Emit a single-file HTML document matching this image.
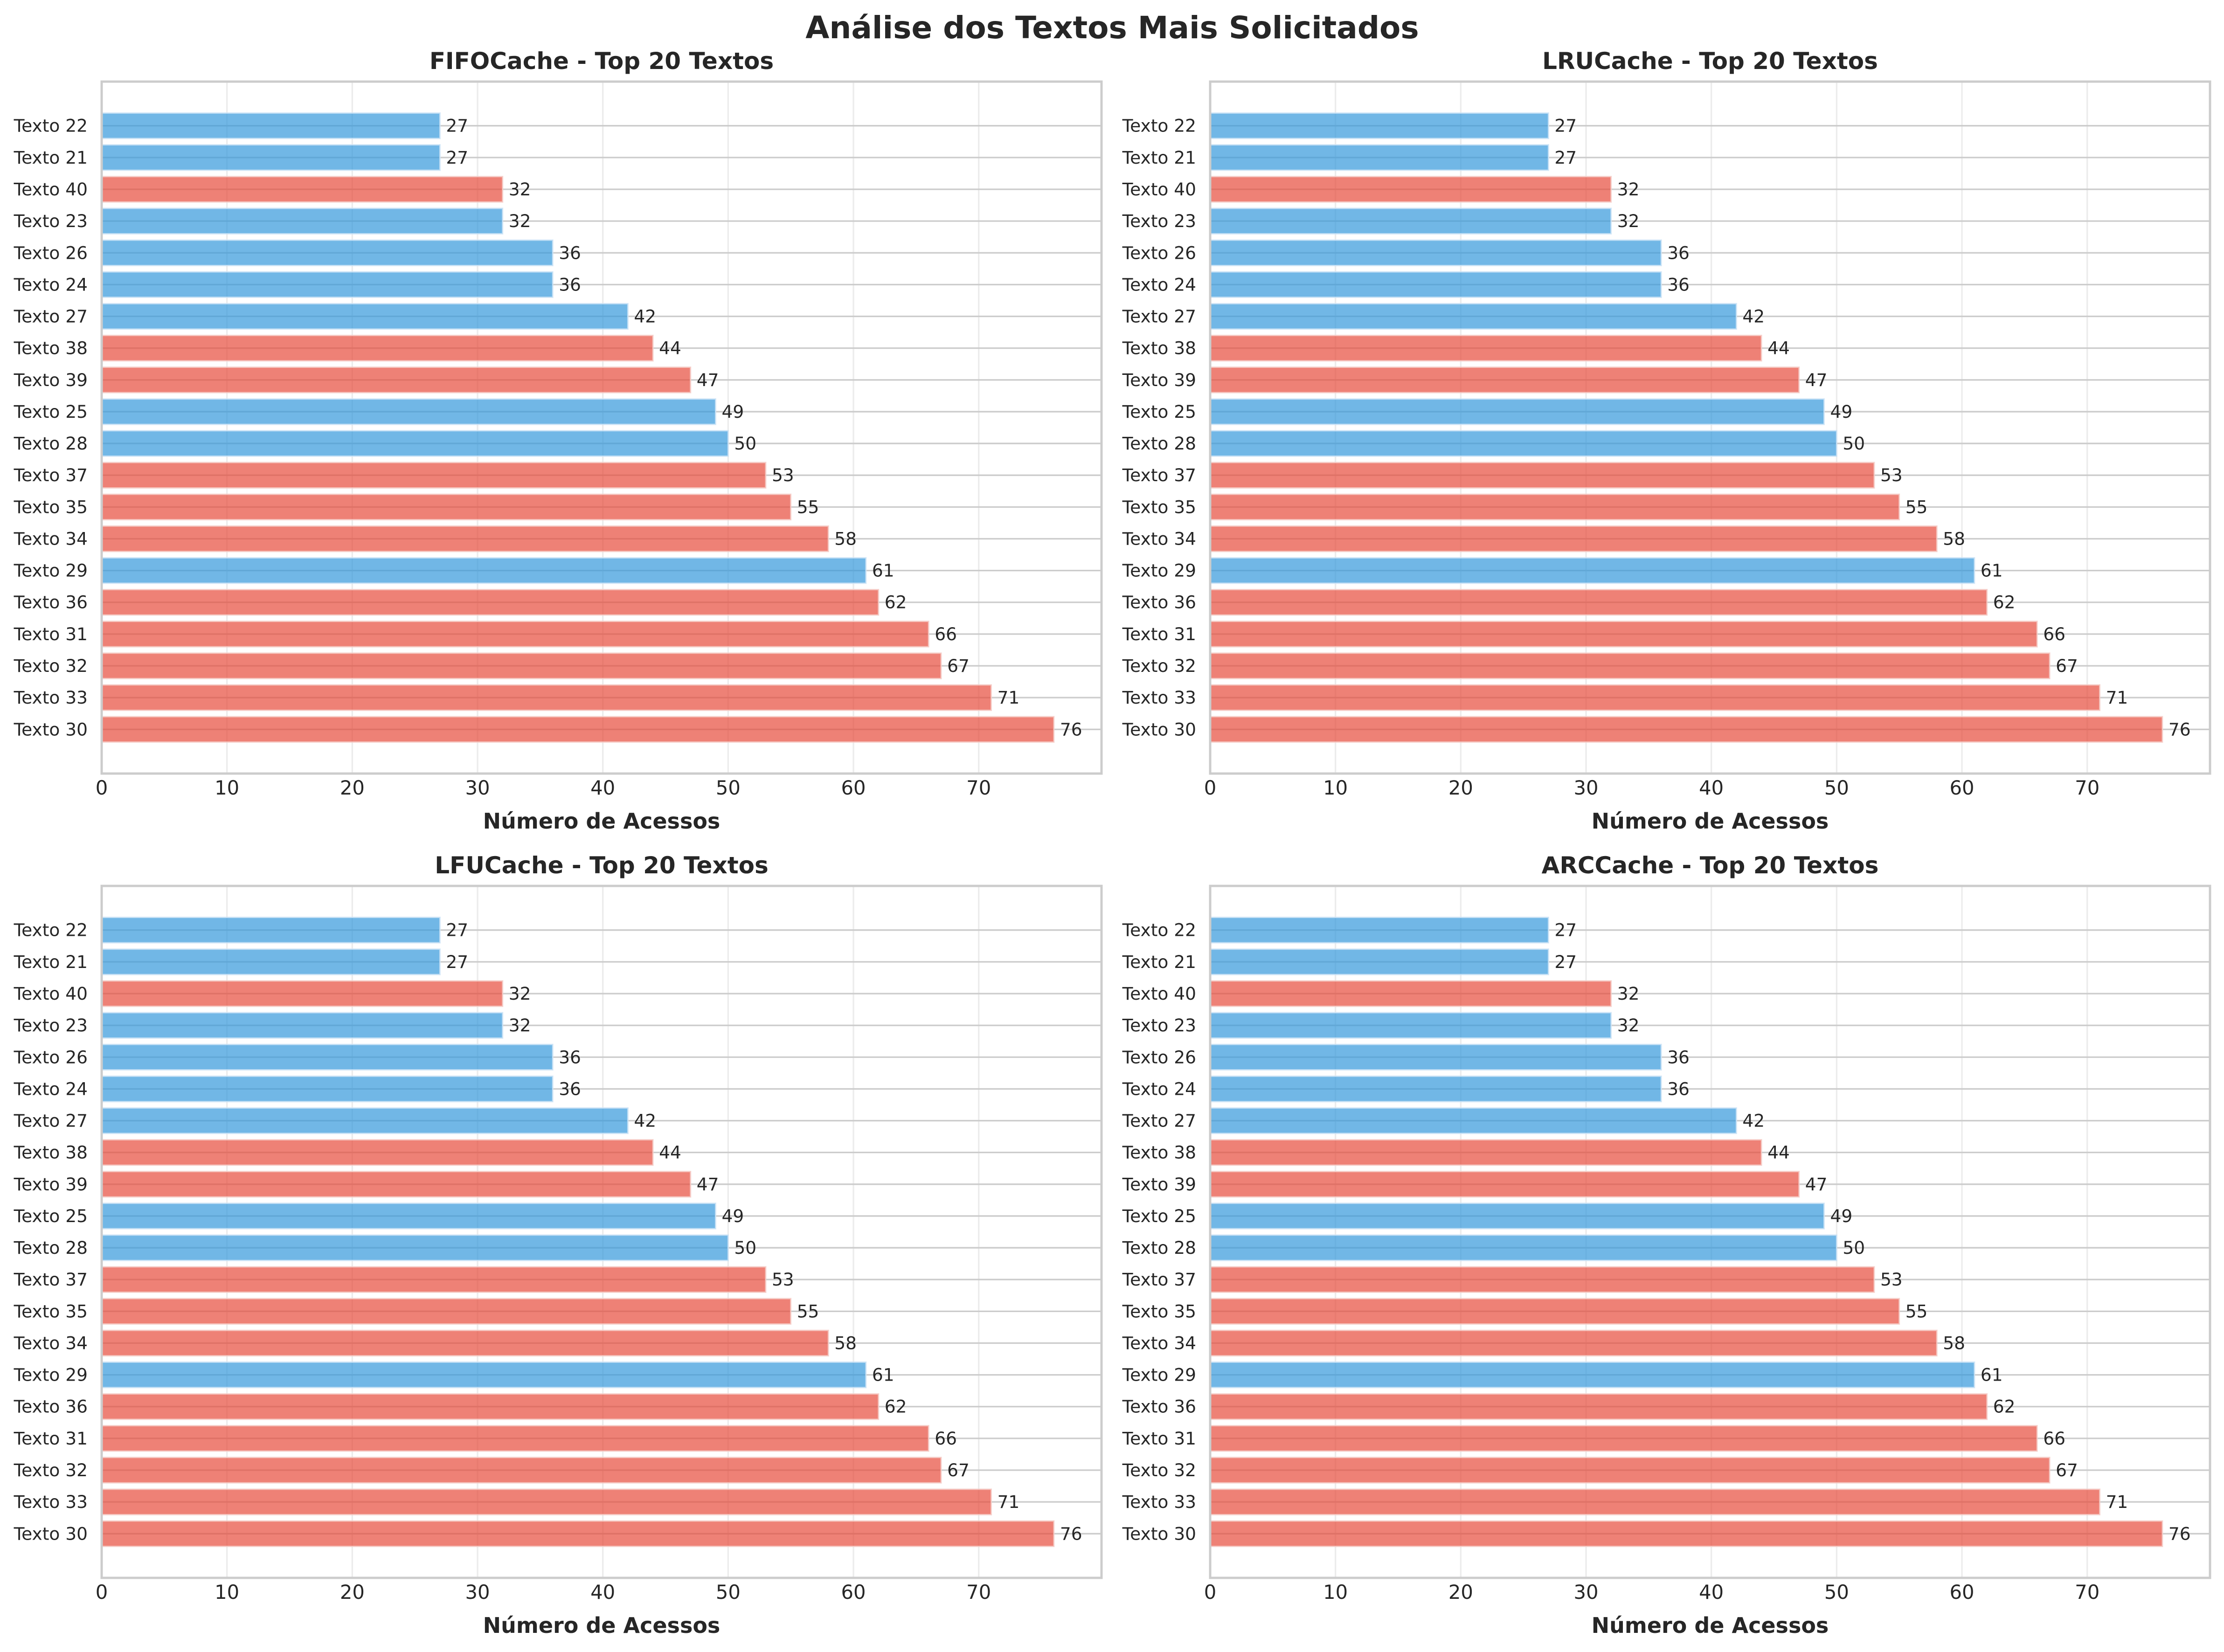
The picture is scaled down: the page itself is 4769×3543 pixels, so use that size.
<!DOCTYPE html>
<html><head><meta charset="utf-8">
<style>
html,body{margin:0;padding:0;background:#fff;}
svg{display:block;font-family:"DejaVu Sans","Liberation Sans",sans-serif;}
</style></head>
<body>
<svg id="fig" width="4769" height="3543" viewBox="0 0 4769 3543" xmlns="http://www.w3.org/2000/svg">
<rect width="4769" height="3543" fill="#fff"/>
<text x="2385" y="82" text-anchor="middle" font-size="66" font-weight="bold" fill="#262626">Análise dos Textos Mais Solicitados</text>
</svg>
<script>
const categories = ["Texto 22","Texto 21","Texto 40","Texto 23","Texto 26","Texto 24","Texto 27","Texto 38","Texto 39","Texto 25","Texto 28","Texto 37","Texto 35","Texto 34","Texto 29","Texto 36","Texto 31","Texto 32","Texto 33","Texto 30"];
const fifoValues = [27,27,32,32,36,36,42,44,47,49,50,53,55,58,61,62,66,67,71,76];
const lruValues  = [27,27,32,32,36,36,42,44,47,49,50,53,55,58,61,62,66,67,71,76];
const lfuValues  = [27,27,32,32,36,36,42,44,47,49,50,53,55,58,61,62,66,67,71,76];
const arcValues  = [27,27,32,32,36,36,42,44,47,49,50,53,55,58,61,62,66,67,71,76];
const xTicks = [0,10,20,30,40,50,60,70];
const panelTitles = ["FIFOCache - Top 20 Textos","LRUCache - Top 20 Textos","LFUCache - Top 20 Textos","ARCCache - Top 20 Textos"];

const NS = "http://www.w3.org/2000/svg";
const svg = document.getElementById('fig');
function mk(tag, attrs, parent){
  const e = document.createElementNS(NS, tag);
  for (const k in attrs) e.setAttribute(k, attrs[k]);
  parent.appendChild(e);
  return e;
}

const panels = [
  {vals: fifoValues, ox: 218, oy: 175, name: 'fifo'},
  {vals: lruValues, ox: 2595, oy: 175, name: 'lru'},
  {vals: lfuValues, ox: 218, oy: 1900, name: 'lfu'},
  {vals: arcValues, ox: 2595, oy: 1900, name: 'arc'}
];
const W = 2144, H = 1484;

panels.forEach((p, pi) => {
  const g = mk('g', {}, svg);
  
  
  const n = categories.length;
  const maxV = Math.max(...p.vals);
  const xmax = maxV * 1.05;
  const ymin = -0.4 - 0.05 * (n - 0.2), ymax = n - 1 + 0.4 + 0.05 * (n - 0.2);
  const xs = v => p.ox + v / xmax * W;
  const ys = i => p.oy + (i - ymin) / (ymax - ymin) * H;
  const bandH = H / (ymax - ymin);

  const t = mk('text', {x: p.ox + W/2, y: p.oy - 27, 'text-anchor': 'middle', 'font-size': 50, 'font-weight': 'bold', fill: '#262626'}, g);
  t.textContent = panelTitles[pi];
  
  

  xTicks.forEach(v => {
    const l = mk('line', {x1: xs(v), x2: xs(v), y1: p.oy, y2: p.oy + H, stroke: '#ececec', 'stroke-width': 3.3}, g);
    
    
    const tl = mk('text', {x: xs(v), y: p.oy + H + 45, 'text-anchor': 'middle', 'font-size': 41.7, fill: '#262626'}, g);
    tl.textContent = v;
    
    
  });
  categories.forEach((c, i) => {
    const l = mk('line', {x1: p.ox, x2: p.ox + W, y1: ys(i), y2: ys(i), stroke: '#cccccc', 'stroke-width': 3.3}, g);
    
    
  });
  categories.forEach((c, i) => {
    const v = p.vals[i];
    const num = parseInt(c.replace(/\D/g, ''), 10);
    const red = num >= 30;
    const bh = bandH * 0.8;
    const r = mk('rect', {x: xs(0), y: ys(i) - bh/2, width: xs(v) - xs(0), height: bh,
      fill: red ? 'rgba(231,76,60,0.7)' : 'rgba(52,152,219,0.7)',
      stroke: red ? 'rgba(245,205,200,0.8)' : 'rgba(205,228,246,0.8)', 'stroke-width': 3}, g);
    
    
    const vl = mk('text', {x: xs(v) + 13, y: ys(i) + 13, 'font-size': 37.5, fill: '#262626'}, g);
    vl.textContent = v;
    
    
    const yl = mk('text', {x: p.ox - 30, y: ys(i) + 13, 'text-anchor': 'end', 'font-size': 37.5, fill: '#262626'}, g);
    yl.textContent = c;
    
    
  });
  const sp = mk('rect', {x: p.ox, y: p.oy, width: W, height: H, fill: 'none', stroke: '#cccccc', 'stroke-width': 5}, g);
  
  
  const xl = mk('text', {x: p.ox + W/2, y: p.oy + H + 118, 'text-anchor': 'middle', 'font-size': 46, 'font-weight': 'bold', fill: '#262626'}, g);
  xl.textContent = 'Número de Acessos';
  
  
});
</script>
</body></html>
